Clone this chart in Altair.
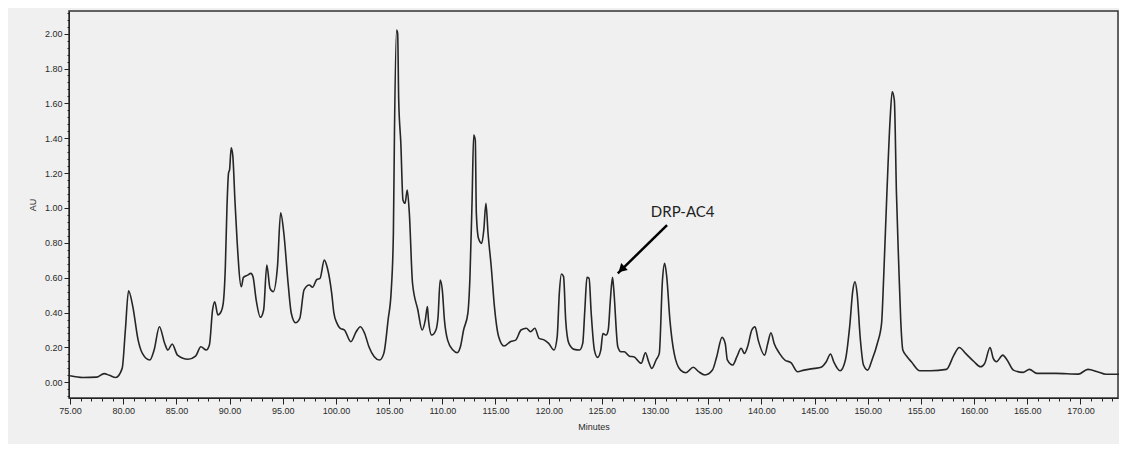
import altair as alt
import pandas as pd

# ---- chromatogram trace (minutes, AU) ----
minutes = [
    75.0, 76.2, 77.5, 78.2, 78.7, 79.3, 79.9, 80.2, 80.5, 80.9, 81.4, 81.8, 82.5, 82.9,
    83.4, 83.9, 84.2, 84.6, 85.1, 86.1, 86.8, 87.3, 87.8, 88.1, 88.4, 88.6, 88.9, 89.2,
    89.4, 89.6, 89.75, 89.9, 90.0, 90.15, 90.3, 90.5, 90.7, 91.1, 91.3, 91.7, 92.0, 92.2,
    92.5, 92.9, 93.2, 93.5, 93.8, 94.1, 94.5, 94.8, 95.1, 95.5, 95.8, 96.2, 96.6, 97.0,
    97.5, 97.8, 98.2, 98.5, 98.9, 99.2, 99.6, 99.8, 100.1, 100.4, 100.8, 101.4, 101.9,
    102.3, 102.7, 103.1, 103.6, 104.1, 104.5, 104.9, 105.2, 105.4, 105.5, 105.7, 105.8,
    105.9, 106.1, 106.3, 106.5, 106.7, 106.9, 107.2, 107.7, 108.1, 108.4, 108.6, 108.7,
    109.0, 109.4, 109.6, 109.8, 110.0, 110.2, 110.5, 111.0, 111.4, 111.7, 112.0, 112.4,
    112.6, 112.8, 112.95, 113.1, 113.2, 113.4, 113.7, 113.9, 114.1, 114.3, 114.6, 114.9,
    115.3, 115.8, 116.4, 116.9, 117.4, 117.9, 118.3, 118.7, 119.1, 119.6, 120.0, 120.5,
    120.8, 121.0, 121.2, 121.4, 121.6, 121.9, 122.4, 122.9, 123.2, 123.4, 123.6, 123.8,
    124.0, 124.3, 124.6, 124.9, 125.1, 125.4, 125.6, 125.8, 126.0, 126.1, 126.5, 126.8,
    127.1, 127.6, 128.0, 128.7, 129.1, 129.4, 129.7, 130.1, 130.4, 130.7, 130.9, 131.1,
    131.4, 131.8, 132.4, 132.9, 133.6, 134.1, 134.7, 135.4, 135.8, 136.3, 136.6, 136.8,
    137.3, 137.7, 138.1, 138.4, 138.7, 139.1, 139.4, 139.7, 140.3, 140.6, 140.9, 141.2,
    141.7, 142.2, 142.8, 143.4, 144.0, 145.0, 145.6, 146.1, 146.5, 146.8, 147.4, 147.9,
    148.3, 148.6, 148.8, 149.0, 149.3, 149.6, 150.0, 150.4, 150.9, 151.3, 151.5, 151.8,
    152.1, 152.3, 152.5, 152.7, 152.9, 153.1, 153.3, 153.7, 154.1, 154.9, 155.9, 157.4,
    158.1, 158.6, 159.2, 160.0, 160.6, 161.0, 161.5, 161.8, 162.1, 162.7, 163.1, 163.7,
    164.6, 165.2, 165.9, 167.7, 169.8, 170.7, 171.6, 172.4, 173.9,
]
au = [
    0.038, 0.028, 0.030, 0.050, 0.040, 0.028, 0.080, 0.300, 0.525, 0.434, 0.242, 0.166, 0.128, 0.185,
    0.319, 0.223, 0.185, 0.220, 0.156, 0.132, 0.150, 0.204, 0.185, 0.214, 0.415, 0.462, 0.386, 0.405,
    0.453, 0.663, 1.000, 1.200, 1.220, 1.345, 1.300, 1.046, 0.816, 0.548, 0.602, 0.615, 0.625, 0.606,
    0.472, 0.373, 0.415, 0.672, 0.539, 0.520, 0.663, 0.973, 0.855, 0.568, 0.396, 0.342, 0.367, 0.530,
    0.558, 0.545, 0.590, 0.596, 0.701, 0.654, 0.510, 0.400, 0.338, 0.310, 0.300, 0.233, 0.290,
    0.319, 0.280, 0.204, 0.147, 0.128, 0.166, 0.357, 0.529, 0.855, 1.428, 2.021, 2.002,
    1.619, 1.371, 1.046, 1.027, 1.103, 0.969, 0.568, 0.415, 0.300, 0.357, 0.434, 0.357,
    0.271, 0.300, 0.376, 0.587, 0.529, 0.357, 0.242, 0.185, 0.170, 0.204, 0.300, 0.396,
    0.606, 1.046, 1.419, 1.390, 0.969, 0.826, 0.797, 0.874, 1.027, 0.855, 0.663, 0.434,
    0.261, 0.208, 0.233, 0.242, 0.300, 0.310, 0.290, 0.310, 0.252, 0.242, 0.223, 0.185,
    0.261, 0.510, 0.621, 0.606, 0.357, 0.223, 0.189, 0.185, 0.223, 0.415, 0.602, 0.596,
    0.396, 0.185, 0.143, 0.185, 0.280, 0.271, 0.300, 0.472, 0.602, 0.548, 0.204, 0.175,
    0.175, 0.150, 0.147, 0.109, 0.170, 0.118, 0.080, 0.128, 0.166, 0.587, 0.682, 0.606,
    0.357, 0.166, 0.070, 0.055, 0.086, 0.061, 0.042, 0.070, 0.147, 0.258, 0.223, 0.128,
    0.099, 0.147, 0.195, 0.166, 0.204, 0.300, 0.319, 0.242, 0.156, 0.223, 0.284, 0.223,
    0.166, 0.128, 0.112, 0.061, 0.070, 0.080, 0.086, 0.118, 0.162, 0.118, 0.066, 0.128,
    0.319, 0.529, 0.577, 0.510, 0.250, 0.099, 0.070, 0.128, 0.223, 0.338, 0.606, 1.084,
    1.505, 1.667, 1.619, 1.084, 0.701, 0.357, 0.185, 0.147, 0.118, 0.066, 0.066, 0.074,
    0.156, 0.200, 0.166, 0.118, 0.089, 0.109, 0.200, 0.137, 0.118, 0.156, 0.128, 0.070,
    0.057, 0.074, 0.051, 0.051, 0.047, 0.074, 0.061, 0.046, 0.046,
]

# ---- axis tick values ----
x_major = [75, 80, 85, 90, 95, 100, 105, 110, 115, 120, 125, 130, 135, 140, 145, 150, 155, 160, 165, 170]
x_minor = list(range(75, 174))
y_major = [0.0, 0.2, 0.4, 0.6, 0.8, 1.0, 1.2, 1.4, 1.6, 1.8, 2.0]
y_minor = [-0.08, -0.04, 0.0, 0.04, 0.08, 0.12, 0.16, 0.2, 0.24, 0.28, 0.32, 0.36, 0.4, 0.44, 0.48,
           0.52, 0.56, 0.6, 0.64, 0.68, 0.72, 0.76, 0.8, 0.84, 0.88, 0.92, 0.96, 1.0, 1.04, 1.08,
           1.12, 1.16, 1.2, 1.24, 1.28, 1.32, 1.36, 1.4, 1.44, 1.48, 1.52, 1.56, 1.6, 1.64, 1.68,
           1.72, 1.76, 1.8, 1.84, 1.88, 1.92, 1.96, 2.0, 2.04, 2.08, 2.12]

# ---- annotation ----
label_text = ["DRP-AC4"]
label_x = [132.6]
label_y = [0.977]
arrow_from_x = [131.13]
arrow_from_y = [0.902]
arrow_to_x = [126.5]
arrow_to_y = [0.625]
head_x = [126.85]
head_y = [0.648]

trace = pd.DataFrame({"min": minutes, "au": au})
ann = pd.DataFrame({"t": label_text, "x": label_x, "y": label_y})
arr = pd.DataFrame({"x": arrow_from_x, "y": arrow_from_y, "x2": arrow_to_x, "y2": arrow_to_y})
head = pd.DataFrame({"x": head_x, "y": head_y})

xs = alt.Scale(domain=[74.9, 173.53], nice=False, zero=False)
ys = alt.Scale(domain=[-0.09, 2.13], nice=False, zero=False)

FONT = "Liberation Sans"

line = alt.Chart(trace).mark_line(color="#262626", strokeWidth=1.6, interpolate="monotone").encode(
    x=alt.X("min:Q", scale=xs,
            axis=alt.Axis(values=x_major, format=".2f", tickSize=6, title="Minutes",
                          orient="bottom", labelPadding=2, titlePadding=7,
                          labelFlush=False)),
    y=alt.Y("au:Q", scale=ys,
            axis=alt.Axis(values=y_major, format=".2f", tickSize=5, title="AU",
                          orient="left", labelPadding=2, titlePadding=7)),
)

arrow = alt.Chart(arr).mark_rule(color="black", strokeWidth=2.5).encode(
    x=alt.X("x:Q", scale=xs,
            axis=alt.Axis(values=x_minor, labels=False, tickSize=3, title=None,
                          domain=False, orient="bottom")),
    y=alt.Y("y:Q", scale=ys,
            axis=alt.Axis(values=y_minor, labels=False, tickSize=2, title=None,
                          domain=False, orient="left")),
    x2="x2:Q",
    y2="y2:Q",
)

arrow_head = alt.Chart(head).mark_point(
    shape="triangle-up", filled=True, color="black", size=90, angle=226, opacity=1
).encode(
    x=alt.X("x:Q", scale=xs, axis=None),
    y=alt.Y("y:Q", scale=ys, axis=None),
)

label = alt.Chart(ann).mark_text(
    font="Lato", fontSize=15, color="#222", align="center", baseline="middle"
).encode(
    x=alt.X("x:Q", scale=xs, axis=None),
    y=alt.Y("y:Q", scale=ys, axis=None),
    text="t:N",
)

chart = (
    alt.layer(line, arrow, arrow_head, label)
    .resolve_axis(x="independent", y="independent")
    .properties(
        width=1049,
        height=387,
        autosize=alt.AutoSizeParams(type="none"),
        padding={"left": 61, "top": 3, "right": 1, "bottom": 46},
        background="#f0f0f0",
    )
    .configure_view(stroke="#333333", strokeWidth=1.5, fill="#f0f0f0")
    .configure_axis(
        grid=False,
        domainColor="#222222",
        tickColor="#222222",
        labelColor="#2a2a2a",
        labelFont=FONT,
        labelFontSize=9,
        titleFont=FONT,
        titleFontSize=9,
        titleFontWeight="normal",
        titleColor="#2a2a2a",
    )
)

chart.save("out.html", embed_options={"renderer": "svg", "actions": False})
